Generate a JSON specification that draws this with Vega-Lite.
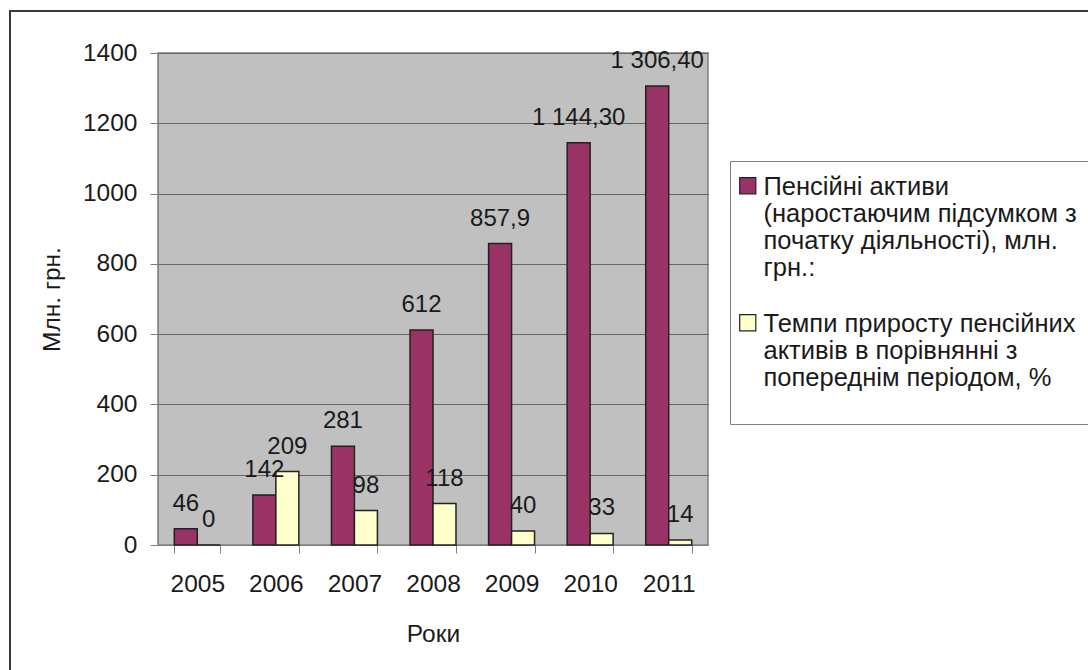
{
  "$schema": "https://vega.github.io/schema/vega-lite/v6.json",
  "width": 550,
  "height": 492,
  "autosize": {"type": "none"},
  "padding": {"left": 158, "top": 53, "right": 380, "bottom": 125},
  "background": "white",
  "config": {
    "view": {"stroke": "#808080", "strokeWidth": 1.5, "fill": "#c0c0c0"},
    "font": "Liberation Sans",
    "style": {"guide-label": {"lineHeight": 27, "dy": -11}}
  },
  "data": {
    "values": [
      {"year": "2005", "series": "Пенсійні активи|(наростаючим підсумком з|початку діяльності), млн.|грн.:", "value": 46, "label": "46"},
      {"year": "2006", "series": "Пенсійні активи|(наростаючим підсумком з|початку діяльності), млн.|грн.:", "value": 142, "label": "142"},
      {"year": "2007", "series": "Пенсійні активи|(наростаючим підсумком з|початку діяльності), млн.|грн.:", "value": 281, "label": "281"},
      {"year": "2008", "series": "Пенсійні активи|(наростаючим підсумком з|початку діяльності), млн.|грн.:", "value": 612, "label": "612"},
      {"year": "2009", "series": "Пенсійні активи|(наростаючим підсумком з|початку діяльності), млн.|грн.:", "value": 857.9, "label": "857,9"},
      {"year": "2010", "series": "Пенсійні активи|(наростаючим підсумком з|початку діяльності), млн.|грн.:", "value": 1144.3, "label": "1 144,30"},
      {"year": "2011", "series": "Пенсійні активи|(наростаючим підсумком з|початку діяльності), млн.|грн.:", "value": 1306.4, "label": "1 306,40"},
      {"year": "2005", "series": "Темпи приросту пенсійних|активів в порівнянні з|попереднім періодом, %", "value": 0, "label": "0"},
      {"year": "2006", "series": "Темпи приросту пенсійних|активів в порівнянні з|попереднім періодом, %", "value": 209, "label": "209"},
      {"year": "2007", "series": "Темпи приросту пенсійних|активів в порівнянні з|попереднім періодом, %", "value": 98, "label": "98"},
      {"year": "2008", "series": "Темпи приросту пенсійних|активів в порівнянні з|попереднім періодом, %", "value": 118, "label": "118"},
      {"year": "2009", "series": "Темпи приросту пенсійних|активів в порівнянні з|попереднім періодом, %", "value": 40, "label": "40"},
      {"year": "2010", "series": "Темпи приросту пенсійних|активів в порівнянні з|попереднім періодом, %", "value": 33, "label": "33"},
      {"year": "2011", "series": "Темпи приросту пенсійних|активів в порівнянні з|попереднім періодом, %", "value": 14, "label": "14"}
    ]
  },
  "resolve": {"scale": {"x": "independent", "y": "independent"}},
  "layer": [
    {
      "data": {"values": [{}]},
      "mark": {"type": "rect", "fill": null, "filled": false, "stroke": "#3a3a3a", "strokeWidth": 2},
      "encoding": {
        "x": {"datum": 0, "type": "quantitative", "scale": {"domain": [0, 1], "range": [-148, 960]}, "axis": null},
        "x2": {"datum": 1},
        "y": {"datum": 0, "type": "quantitative", "scale": {"domain": [0, 1], "range": [690, -42]}, "axis": null},
        "y2": {"datum": 1}
      }
    },
    {
      "encoding": {
        "x": {
          "field": "year", "type": "ordinal",
          "scale": {"paddingInner": 0.415, "paddingOuter": 0.2075},
          "axis": {
            "title": "Роки", "orient": "bottom", "tickBand": "extent", "labelAngle": 0, "labelFontSize": 24.5,
            "labelPadding": 30, "tickSize": 8, "domainColor": "#808080", "tickColor": "#808080",
            "titleFontSize": 24.5, "titleFontWeight": "normal", "titlePadding": 27,
            "labelColor": "#1a1a1a", "titleColor": "#1a1a1a", "grid": false
          }
        },
        "xOffset": {
          "field": "series", "type": "nominal",
          "sort": ["Пенсійні активи|(наростаючим підсумком з|початку діяльності), млн.|грн.:", "Темпи приросту пенсійних|активів в порівнянні з|попереднім періодом, %"]
        },
        "y": {
          "field": "value", "type": "quantitative",
          "scale": {"domain": [0, 1400], "nice": false},
          "axis": {
            "title": "Млн. грн.", "orient": "left", "values": [0, 200, 400, 600, 800, 1000, 1200, 1400], "format": "d",
            "tickSize": 8, "labelPadding": 13, "labelOffset": 11, "labelFontSize": 24.5, "titleFontSize": 24.5,
            "titleFontWeight": "normal", "titlePadding": 18, "grid": true, "gridColor": "#666666", "gridWidth": 1,
            "domainColor": "#808080", "tickColor": "#808080", "labelColor": "#1a1a1a", "titleColor": "#1a1a1a"
          }
        }
      },
      "layer": [
        {
          "mark": {"type": "bar", "stroke": "#222222", "strokeWidth": 1.5},
          "encoding": {
            "color": {
              "field": "series", "type": "nominal",
              "scale": {
                "domain": ["Пенсійні активи|(наростаючим підсумком з|початку діяльності), млн.|грн.:", "Темпи приросту пенсійних|активів в порівнянні з|попереднім періодом, %"],
                "range": ["#993366", "#ffffcc"]
              },
              "legend": {
                "orient": "none", "legendX": 572, "legendY": 108,
                "title": " ", "titleOrient": "top", "titlePadding": 3, "titleFontSize": 4,
                "labelExpr": "split(replace(replace(datum.label, 'пенсійних', 'пенсійних      \u200b'), '%', '%| '), '|')",
                "labelFontSize": 25.5, "labelLimit": 700,
                "labelColor": "#1a1a1a", "symbolType": "square", "symbolSize": 260,
                "symbolStrokeColor": "#222222", "symbolStrokeWidth": 1.2,
                "strokeColor": "#808080", "fillColor": "white", "padding": 5,
                "rowPadding": 28, "labelOffset": 3, "labelBaseline": "top"
              }
            }
          }
        },
        {
          "mark": {"type": "text", "baseline": "alphabetic", "dy": -18, "fontSize": 24, "color": "#1a1a1a"},
          "encoding": {"text": {"field": "label"}}
        }
      ]
    }
  ]
}
